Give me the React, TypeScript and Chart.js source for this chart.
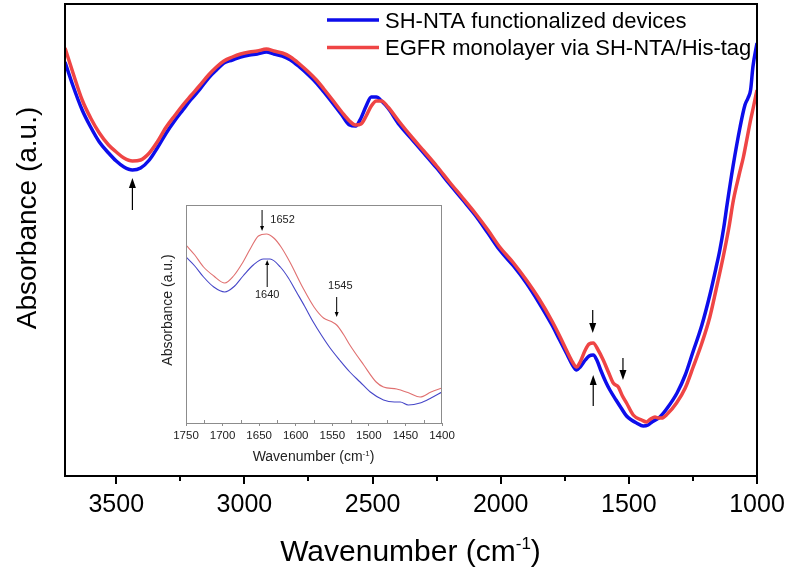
import React, { useEffect, useRef } from "react";
import { Chart, registerables } from "chart.js";

Chart.register(...registerables);

const FONT = '"Liberation Sans", Arial, Helvetica, sans-serif';

// ---- Main spectrum data (wavenumber cm^-1, absorbance a.u.) ----
const blueWn = [3700, 3670, 3633, 3600, 3566, 3530, 3500, 3470, 3437, 3405, 3371, 3340, 3305, 3270, 3240, 3210, 3176, 3140, 3109, 3080, 3047, 3015, 2980, 2950, 2914, 2885, 2852, 2820, 2785, 2750, 2719, 2690, 2656, 2620, 2590, 2566, 2545, 2525, 2505, 2485, 2465, 2440, 2395, 2344, 2300, 2250, 2200, 2148, 2100, 2050, 2004, 1950, 1900, 1850, 1800, 1770, 1740, 1720, 1704, 1690, 1670, 1655, 1639, 1625, 1610, 1590, 1574, 1550, 1530, 1509, 1490, 1470, 1444, 1425, 1410, 1379, 1350, 1312, 1280, 1250, 1215, 1184, 1160, 1145, 1130, 1117, 1094, 1066, 1047, 1035, 1025, 1016, 1000];
const blueAbs = [0.414, 0.391, 0.366, 0.349, 0.334, 0.323, 0.315, 0.309, 0.306, 0.308, 0.316, 0.328, 0.343, 0.356, 0.366, 0.376, 0.386, 0.398, 0.406, 0.413, 0.416, 0.419, 0.421, 0.422, 0.424, 0.422, 0.420, 0.416, 0.409, 0.401, 0.393, 0.384, 0.373, 0.361, 0.351, 0.350, 0.358, 0.370, 0.379, 0.379, 0.375, 0.368, 0.351, 0.336, 0.323, 0.308, 0.292, 0.276, 0.261, 0.243, 0.226, 0.210, 0.193, 0.173, 0.151, 0.136, 0.121, 0.111, 0.106, 0.109, 0.116, 0.120, 0.121, 0.116, 0.106, 0.094, 0.086, 0.076, 0.068, 0.060, 0.056, 0.053, 0.050, 0.051, 0.054, 0.059, 0.068, 0.083, 0.101, 0.124, 0.151, 0.181, 0.208, 0.226, 0.248, 0.271, 0.309, 0.349, 0.371, 0.378, 0.386, 0.409, 0.433];

const redWn = [3700, 3670, 3633, 3600, 3566, 3530, 3500, 3470, 3437, 3405, 3371, 3340, 3305, 3270, 3240, 3210, 3176, 3140, 3109, 3080, 3047, 3015, 2980, 2950, 2914, 2885, 2852, 2820, 2785, 2750, 2719, 2690, 2656, 2620, 2590, 2566, 2545, 2525, 2505, 2485, 2465, 2440, 2395, 2344, 2300, 2250, 2200, 2148, 2100, 2050, 2004, 1950, 1900, 1850, 1800, 1770, 1740, 1720, 1704, 1690, 1670, 1655, 1639, 1620, 1600, 1580, 1561, 1541, 1525, 1509, 1483, 1450, 1431, 1415, 1398, 1385, 1372, 1350, 1314, 1280, 1249, 1215, 1184, 1160, 1132, 1110, 1092, 1070, 1053, 1040, 1025, 1014, 1000];
const redAbs = [0.428, 0.404, 0.376, 0.358, 0.343, 0.331, 0.324, 0.318, 0.315, 0.316, 0.323, 0.334, 0.349, 0.361, 0.371, 0.380, 0.390, 0.401, 0.409, 0.415, 0.419, 0.422, 0.424, 0.425, 0.427, 0.425, 0.423, 0.419, 0.412, 0.404, 0.396, 0.387, 0.376, 0.364, 0.355, 0.351, 0.352, 0.360, 0.370, 0.375, 0.375, 0.369, 0.354, 0.338, 0.325, 0.310, 0.294, 0.278, 0.263, 0.246, 0.229, 0.213, 0.196, 0.177, 0.155, 0.140, 0.124, 0.114, 0.109, 0.114, 0.126, 0.132, 0.133, 0.126, 0.116, 0.104, 0.093, 0.089, 0.080, 0.073, 0.061, 0.056, 0.054, 0.057, 0.059, 0.058, 0.058, 0.062, 0.073, 0.088, 0.109, 0.133, 0.159, 0.186, 0.219, 0.248, 0.276, 0.301, 0.319, 0.336, 0.356, 0.369, 0.386];

const mainTicks = [3500, 3000, 2500, 2000, 1500, 1000];
const mainMinorTicks = [3250, 2750, 2250, 1750, 1250];
const legendLabels = ["SH-NTA functionalized devices", "EGFR monolayer via SH-NTA/His-tag"];
const seriesColors = ["#0d0deb", "#ef4545"];

// arrows in main plot: wavenumber, tail value, head value
const mainArrowWn = [3437, 1641, 1639, 1523];
const mainArrowTail = [0.266, 0.166, 0.070, 0.118];
const mainArrowHead = [0.298, 0.143, 0.101, 0.096];

// ---- Inset data ----
const insetBlueWn = [1750, 1738, 1726, 1712, 1697, 1685, 1672, 1658, 1644, 1635, 1621, 1610, 1599, 1588, 1576, 1565, 1553, 1540, 1526, 1512, 1498, 1480, 1465, 1457, 1446, 1430, 1415, 1400];
const insetBlueAbs = [0.166, 0.157, 0.146, 0.136, 0.131, 0.136, 0.147, 0.158, 0.164, 0.164, 0.156, 0.145, 0.131, 0.117, 0.101, 0.088, 0.075, 0.063, 0.051, 0.041, 0.031, 0.023, 0.021, 0.021, 0.018, 0.020, 0.025, 0.031];
const insetRedWn = [1750, 1738, 1726, 1712, 1697, 1685, 1672, 1660, 1651, 1640, 1630, 1620, 1608, 1590, 1575, 1562, 1550, 1544, 1535, 1526, 1507, 1490, 1480, 1462, 1445, 1430, 1415, 1400];
const insetRedAbs = [0.178, 0.168, 0.156, 0.147, 0.140, 0.147, 0.161, 0.177, 0.187, 0.189, 0.185, 0.176, 0.161, 0.135, 0.116, 0.105, 0.101, 0.098, 0.089, 0.078, 0.058, 0.041, 0.036, 0.034, 0.030, 0.026, 0.031, 0.035];
const insetTicks = [1750, 1700, 1650, 1600, 1550, 1500, 1450, 1400];
const insetMinorTicks = [1725, 1675, 1625, 1575, 1525, 1475, 1425];
const insetColors = ["#4646c8", "#e07070"];

const insetArrowWn = [1646, 1639, 1544];
const insetArrowTail = [0.213, 0.136, 0.126];
const insetArrowHead = [0.192, 0.163, 0.106];
const insetLabelText = ["1652", "1640", "1545"];
const insetLabelWn = [1618, 1639, 1539];
const insetLabelAbs = [0.203, 0.128, 0.137];

function pts(xs: number[], ys: number[]) {
  return xs.map((x, i) => ({ x, y: ys[i] }));
}

function drawArrow(ctx: CanvasRenderingContext2D, x: number, yTail: number, yHead: number, headLen: number, headHalf: number, lw: number) {
  const dir = Math.sign(yHead - yTail);
  ctx.save();
  ctx.strokeStyle = "#000";
  ctx.fillStyle = "#000";
  ctx.lineWidth = lw;
  ctx.beginPath();
  ctx.moveTo(x, yTail);
  ctx.lineTo(x, yHead - dir * headLen);
  ctx.stroke();
  ctx.beginPath();
  ctx.moveTo(x, yHead);
  ctx.lineTo(x - headHalf, yHead - dir * headLen);
  ctx.lineTo(x + headHalf, yHead - dir * headLen);
  ctx.closePath();
  ctx.fill();
  ctx.restore();
}

function drawSupTitle(ctx: CanvasRenderingContext2D, cx: number, baseline: number, main: string, sup: string, tail: string, size: number, supSize: number, raise: number, color: string) {
  ctx.save();
  ctx.fillStyle = color;
  ctx.textAlign = "left";
  ctx.textBaseline = "alphabetic";
  const fMain = `${size}px ${FONT}`;
  const fSup = `${supSize}px ${FONT}`;
  ctx.font = fMain;
  const w1 = ctx.measureText(main).width;
  const w3 = ctx.measureText(tail).width;
  ctx.font = fSup;
  const w2 = ctx.measureText(sup).width;
  let x = cx - (w1 + w2 + w3) / 2;
  ctx.font = fMain;
  ctx.fillText(main, x, baseline);
  x += w1;
  ctx.font = fSup;
  ctx.fillText(sup, x, baseline - raise);
  x += w2;
  ctx.font = fMain;
  ctx.fillText(tail, x, baseline);
  ctx.restore();
}

function drawRotated(ctx: CanvasRenderingContext2D, text: string, cx: number, cy: number, size: number, color: string) {
  ctx.save();
  ctx.translate(cx, cy);
  ctx.rotate(-Math.PI / 2);
  ctx.font = `${size}px ${FONT}`;
  ctx.fillStyle = color;
  ctx.textAlign = "center";
  ctx.textBaseline = "middle";
  ctx.fillText(text, 0, 0);
  ctx.restore();
}

const mainPlugin = {
  id: "mainDecor",
  afterDraw(chart: any) {
    const { ctx, chartArea } = chart;
    const xs = chart.scales.x;
    const ys = chart.scales.y;
    ctx.save();
    ctx.strokeStyle = "#000";
    ctx.lineWidth = 2;
    ctx.strokeRect(chartArea.left, chartArea.top, chartArea.right - chartArea.left, chartArea.bottom - chartArea.top);
    ctx.beginPath();
    mainMinorTicks.forEach((v) => {
      const px = Math.round(xs.getPixelForValue(v));
      ctx.moveTo(px, chartArea.bottom);
      ctx.lineTo(px, chartArea.bottom + 5);
    });
    ctx.stroke();
    ctx.restore();
    mainArrowWn.forEach((w, i) => {
      const px = xs.getPixelForValue(w);
      drawArrow(ctx, px, ys.getPixelForValue(mainArrowTail[i]), ys.getPixelForValue(mainArrowHead[i]), 10, 3.5, 1.2);
    });
    ctx.save();
    legendLabels.forEach((lab, i) => {
      const y = 20 + i * 27.5;
      ctx.strokeStyle = seriesColors[i];
      ctx.lineWidth = 3.5;
      ctx.beginPath();
      ctx.moveTo(327, y);
      ctx.lineTo(379, y);
      ctx.stroke();
      ctx.fillStyle = "#000";
      ctx.font = `22px ${FONT}`;
      ctx.textAlign = "left";
      ctx.textBaseline = "alphabetic";
      ctx.fillText(lab, 385, y + 7.5);
    });
    ctx.restore();
    drawRotated(ctx, "Absorbance (a.u.)", 28.5, 218, 28, "#000");
    drawSupTitle(ctx, 410.5, 561, "Wavenumber (cm", "-1", ")", 30, 17, 12, "#000");
  },
};

const insetPlugin = {
  id: "insetDecor",
  afterDraw(chart: any) {
    const { ctx, chartArea } = chart;
    const xs = chart.scales.x;
    const ys = chart.scales.y;
    ctx.save();
    ctx.strokeStyle = "#8c8c8c";
    ctx.lineWidth = 1;
    ctx.strokeRect(chartArea.left + 0.5, chartArea.top + 0.5, chartArea.right - chartArea.left - 1, chartArea.bottom - chartArea.top);
    ctx.beginPath();
    insetMinorTicks.forEach((v) => {
      const px = Math.round(xs.getPixelForValue(v)) + 0.5;
      ctx.moveTo(px, chartArea.bottom);
      ctx.lineTo(px, chartArea.bottom - 3);
    });
    ctx.stroke();
    ctx.restore();
    insetArrowWn.forEach((w, i) => {
      drawArrow(ctx, xs.getPixelForValue(w), ys.getPixelForValue(insetArrowTail[i]), ys.getPixelForValue(insetArrowHead[i]), 5, 2, 1);
    });
    ctx.save();
    ctx.fillStyle = "#222";
    ctx.font = `11px ${FONT}`;
    ctx.textAlign = "center";
    ctx.textBaseline = "middle";
    insetLabelText.forEach((t, i) => {
      ctx.fillText(t, xs.getPixelForValue(insetLabelWn[i]), ys.getPixelForValue(insetLabelAbs[i]));
    });
    ctx.restore();
    drawRotated(ctx, "Absorbance (a.u.)", 18, 110, 14, "#222");
    drawSupTitle(ctx, 163.5, 261, "Wavenumber (cm", "-1", ")", 14, 8, 5.5, "#222");
  },
};

export default function App() {
  const mainRef = useRef<HTMLCanvasElement>(null);
  const insetRef = useRef<HTMLCanvasElement>(null);

  useEffect(() => {
    document.body.style.margin = "0";
    Chart.defaults.font.family = FONT;
    const main = new Chart(mainRef.current as HTMLCanvasElement, {
      type: "line",
      data: {
        datasets: [
          {
            label: legendLabels[1],
            data: pts(redWn, redAbs),
            borderColor: seriesColors[1],
            borderWidth: 3.5,
            pointRadius: 0,
            cubicInterpolationMode: "monotone",
            fill: false,
            order: 0,
          },
          {
            label: legendLabels[0],
            data: pts(blueWn, blueAbs),
            borderColor: seriesColors[0],
            borderWidth: 3.5,
            pointRadius: 0,
            cubicInterpolationMode: "monotone",
            fill: false,
            order: 1,
          },
        ],
      },
      options: {
        animation: false,
        responsive: false,
        devicePixelRatio: 1,
        layout: { padding: { left: 65, top: 4, right: 34, bottom: 0 } },
        plugins: { legend: { display: false }, tooltip: { enabled: false } },
        scales: {
          x: {
            type: "linear",
            min: 1000,
            max: 3700,
            reverse: true,
            afterBuildTicks: (s: any) => {
              s.ticks = mainTicks.map((v) => ({ value: v }));
            },
            afterFit: (s: any) => {
              s.height = 97;
              s.paddingLeft = 0;
              s.paddingRight = 0;
            },
            border: { display: false },
            grid: { display: true, drawOnChartArea: false, drawTicks: true, tickLength: 8, color: "#000", lineWidth: 2 },
            ticks: { autoSkip: false, maxRotation: 0, color: "#000", font: { size: 25, family: FONT }, padding: 6, callback: (v: any) => String(v) },
          },
          y: { display: false, min: 0, max: 0.472 },
        },
      } as any,
      plugins: [mainPlugin],
    });

    const inset = new Chart(insetRef.current as HTMLCanvasElement, {
      type: "line",
      data: {
        datasets: [
          {
            label: legendLabels[0],
            data: pts(insetBlueWn, insetBlueAbs),
            borderColor: insetColors[0],
            borderWidth: 1.1,
            pointRadius: 0,
            cubicInterpolationMode: "monotone",
            fill: false,
          },
          {
            label: legendLabels[1],
            data: pts(insetRedWn, insetRedAbs),
            borderColor: insetColors[1],
            borderWidth: 1.1,
            pointRadius: 0,
            cubicInterpolationMode: "monotone",
            fill: false,
          },
        ],
      },
      options: {
        animation: false,
        responsive: false,
        devicePixelRatio: 1,
        layout: { padding: { left: 36, top: 5, right: 38, bottom: 0 } },
        plugins: { legend: { display: false }, tooltip: { enabled: false } },
        scales: {
          x: {
            type: "linear",
            min: 1400,
            max: 1750,
            reverse: true,
            afterBuildTicks: (s: any) => {
              s.ticks = insetTicks.map((v) => ({ value: v }));
            },
            afterFit: (s: any) => {
              s.height = 47;
              s.paddingLeft = 0;
              s.paddingRight = 0;
            },
            border: { display: false },
            grid: { display: true, drawOnChartArea: false, drawTicks: true, tickLength: 3, color: "#8c8c8c", lineWidth: 1 },
            ticks: { autoSkip: false, maxRotation: 0, color: "#222", font: { size: 11.5, family: FONT }, padding: 3, callback: (v: any) => String(v) },
          },
          y: { display: false, min: 0, max: 0.218 },
        },
      } as any,
      plugins: [insetPlugin],
    });

    return () => {
      main.destroy();
      inset.destroy();
    };
  }, []);

  return (
    <div style={{ position: "relative", width: 791, height: 573, background: "#fff" }}>
      <canvas ref={mainRef} width={791} height={573} style={{ position: "absolute", left: 0, top: 0 }} />
      <canvas ref={insetRef} width={330} height={270} style={{ position: "absolute", left: 150, top: 200 }} />
    </div>
  );
}
